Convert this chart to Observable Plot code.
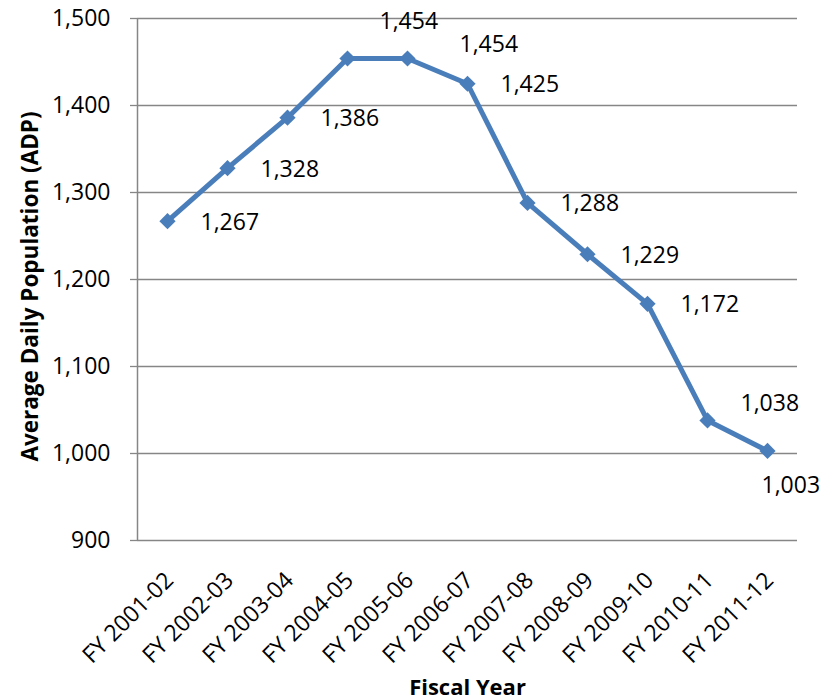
<!DOCTYPE html>
<html>
<head>
<meta charset="utf-8">
<script src="https://cdn.jsdelivr.net/npm/d3@7"></script>
<script src="https://cdn.jsdelivr.net/npm/@observablehq/plot@0.6"></script>
<style>
  html, body { margin: 0; padding: 0; background: #fff; }
  #chart svg { display: block; }
</style>
</head>
<body>
<div id="chart"></div>
<script>
const years = ["FY 2001-02","FY 2002-03","FY 2003-04","FY 2004-05","FY 2005-06","FY 2006-07","FY 2007-08","FY 2008-09","FY 2009-10","FY 2010-11","FY 2011-12"];
const adp = [1267, 1328, 1386, 1454, 1454, 1425, 1288, 1229, 1172, 1038, 1003];
const yTicks = [900, 1000, 1100, 1200, 1300, 1400, 1500];
const xTitle = "Fiscal Year";
const yTitle = "Average Daily Population (ADP)";

const data = years.map((year, i) => ({year, adp: adp[i], i}));
const fmt = d3.format(",");
const font = "'Open Sans', sans-serif";
const blue = "#4A7EBB";
const gray = "#868686";
const fs = 23;

const labelText = (filter, dx, dy) => Plot.text(data, {
  filter, x: "year", y: "adp", text: d => fmt(d.adp),
  dx, dy, textAnchor: "start", fontSize: fs, fill: "#000", fontFamily: font
});

// vertical axis line drawn at the frame's left edge
const yAxisLine = (index, scales, values, dim) => {
  const l = d3.create("svg:line")
    .attr("x1", dim.marginLeft + 0.5).attr("x2", dim.marginLeft + 0.5)
    .attr("y1", dim.marginTop).attr("y2", dim.height - dim.marginBottom)
    .attr("stroke", gray).attr("stroke-width", 1.5);
  return l.node();
};

const chart = Plot.plot({
  width: 840,
  height: 700,
  marginLeft: 137,
  marginRight: 43,
  marginTop: 18,
  marginBottom: 160,
  style: {fontFamily: font, background: "#fff"},
  x: {type: "point", domain: years, padding: 0.5},
  y: {domain: [900, 1500]},
  marks: [
    Plot.gridY(yTicks, {stroke: gray, strokeOpacity: 1, strokeWidth: 1.3}),
    yAxisLine,
    Plot.axisY(yTicks, {tickSize: 7, tickPadding: 20, tickFormat: fmt, fontSize: fs, stroke: gray, fill: "#000", label: null, strokeWidth: 1.3}),
    Plot.axisX({tickSize: 0, tickRotate: -45, tickPadding: 36, dx: 2, dy: 0, fontSize: fs, fill: "#000", label: null}),
    Plot.text([xTitle], {frameAnchor: "bottom", dy: 154, fontWeight: "bold", fontSize: 22, fill: "#000"}),
    Plot.text([yTitle], {frameAnchor: "left", textAnchor: "middle", dx: -107, dy: 7, rotate: -90, fontWeight: "bold", fontSize: 22.5, fill: "#000"}),
    Plot.line(data, {x: "year", y: "adp", stroke: blue, strokeWidth: 5}),
    Plot.dot(data, {x: "year", y: "adp", symbol: "diamond2", r: 7.3, fill: blue, stroke: "none"}),
    labelText(d => ![3, 4, 9, 10].includes(d.i), 33, 1),
    labelText(d => d.i === 3, 32, -37),
    labelText(d => d.i === 4, 52, -14),
    labelText(d => d.i === 9, 33, -17),
    labelText(d => d.i === 10, -6, 35)
  ]
});
document.getElementById("chart").appendChild(chart);
</script>
</body>
</html>
